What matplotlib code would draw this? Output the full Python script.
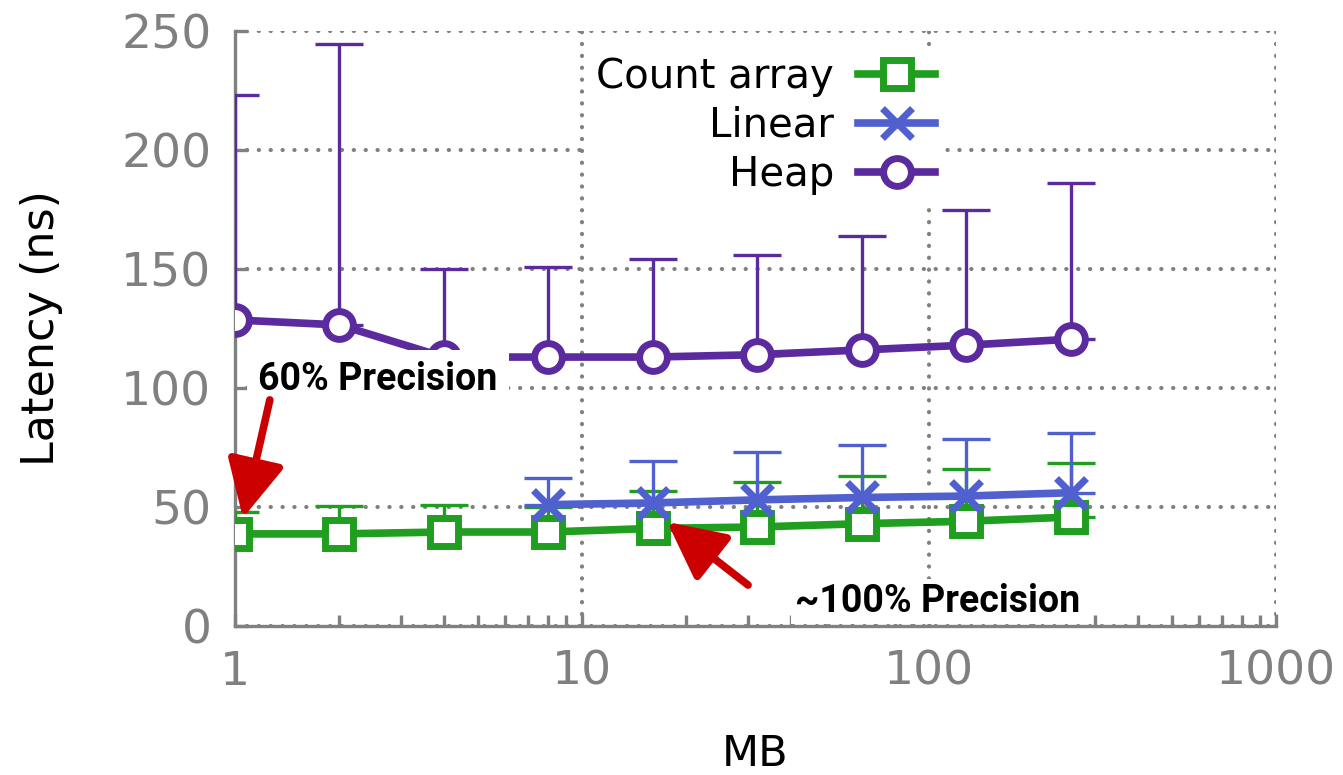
import matplotlib
matplotlib.use('Agg')
import matplotlib.pyplot as plt
import numpy as np

# sizes in MB
sizes = [1, 2, 4, 8, 16, 32, 64, 128, 256]

count_mean = [38.7, 38.7, 39.5, 39.5, 41.0, 41.6, 43.0, 44.0, 45.8]
count_top = [48.0, 50.4, 51.0, 50.0, 56.7, 60.5, 63.0, 66.0, 68.5]

linear_sizes = [8, 16, 32, 64, 128, 256]
linear_mean = [51.0, 51.7, 53.0, 54.0, 54.6, 56.0]
linear_top = [62.0, 69.3, 73.0, 76.0, 78.6, 81.0]

heap_mean = [128.6, 126.5, 113.0, 113.0, 113.0, 114.0, 116.0, 118.0, 120.5]
heap_top = [223.0, 244.5, 150.0, 151.0, 154.0, 156.0, 164.0, 175.0, 186.0]

xticks = [1, 10, 100, 1000]
yticks = [0, 50, 100, 150, 200, 250]

GREEN = '#1f9e1f'
BLUE = '#5060cf'
PURPLE = '#5b2a9e'
RED = '#cc0000'
GRAY = '#808080'


def plot_series(ax, x, mean, top, color, marker, label, ms=20):
    x = np.array(x)
    mean = np.array(mean)
    upper = np.array(top) - mean
    ax.errorbar(x, mean, yerr=[np.zeros_like(upper), upper], fmt='none',
                ecolor=color, elinewidth=2.4, capsize=17, capthick=2.4,
                zorder=3)
    ax.plot(x, mean, color=color, lw=5.5, marker=marker, ms=ms, mew=5,
            mfc='white', mec=color, label=label, zorder=4)


fig = plt.figure(figsize=(13.43, 7.75), dpi=100)
ax = fig.add_axes([235 / 1343, 1 - 626 / 775, (1276 - 235) / 1343,
                   (626 - 31) / 775])

plot_series(ax, sizes, count_mean, count_top, GREEN, 's', 'Count array')
plot_series(ax, linear_sizes, linear_mean, linear_top, BLUE, 'x',
            'Linear', ms=22)
plot_series(ax, sizes, heap_mean, heap_top, PURPLE, 'o', 'Heap')

ax.set_xscale('log')
ax.set_xlim(1, 1000)
ax.set_ylim(0, 250)
ax.set_xticks(xticks)
ax.set_xticklabels([str(t) for t in xticks])
ax.set_yticks(yticks)

ax.grid(True, which='major', color=GRAY, lw=3,
        linestyle=(0, (0.05, 2.8)), dash_capstyle='round')
ax.set_axisbelow(True)

for side in ['top', 'right']:
    ax.spines[side].set_visible(False)
for side in ['left', 'bottom']:
    ax.spines[side].set_color(GRAY)
    ax.spines[side].set_linewidth(2.4)
ax.spines['bottom'].set_zorder(9)

ax.tick_params(which='major', direction='in', length=9, width=2.4,
               color=GRAY, labelcolor=GRAY, labelsize=34, pad=17,
               top=False, right=False)
ax.tick_params(which='minor', direction='in', length=8, width=2.4,
               color=GRAY, top=False, right=False)
ax.tick_params(axis='y', which='minor', left=False)

ax.set_xlabel('MB', fontsize=31, labelpad=28)
ax.set_ylabel('Latency (ns)', fontsize=32, labelpad=42)

leg = ax.legend(loc='upper right', markerfirst=False, fontsize=29,
                bbox_to_anchor=(945 / 1343, 1 - 47 / 775),
                bbox_transform=fig.transFigure, frameon=True,
                fancybox=False, framealpha=1, edgecolor='none',
                handlelength=1.9, handletextpad=0.6, labelspacing=0.22,
                borderpad=0.25, borderaxespad=0)
leg.set_zorder(6)

# annotations
ann_font = dict(family=['Roboto', 'DejaVu Sans'], weight='bold',
                fontsize=27, color='black', zorder=7)
ax.text(1.165, 99, '60% Precision', va='baseline', ha='left',
        bbox=dict(boxstyle='square,pad=0.3', fc='white', ec='none'),
        **ann_font)
ax.text(41.1, 5.9, '~100% Precision', va='baseline', ha='left',
        bbox=dict(boxstyle='square,pad=0.1', fc='white', ec='none'),
        **ann_font)

arrow_props = dict(arrowstyle='-|>,head_length=1.4,head_width=0.7',
                   color=RED, lw=5.5, mutation_scale=25, shrinkA=0,
                   shrinkB=0)
ax.annotate('', xy=(1.054, 45.4), xytext=(1.26, 95),
            arrowprops=arrow_props, zorder=8)
ax.annotate('', xy=(17.6, 43.7), xytext=(30.1, 17.2),
            arrowprops=arrow_props, zorder=8)

fig.savefig('out.png', dpi=100)
